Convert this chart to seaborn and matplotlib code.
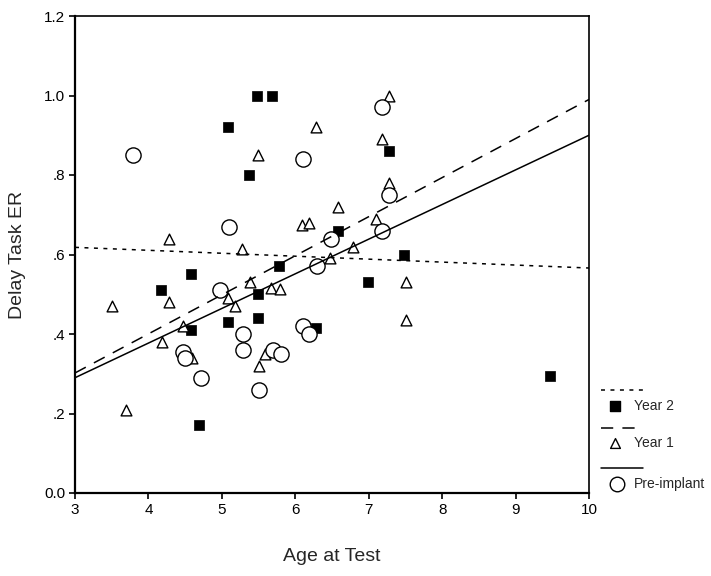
import numpy as np
import pandas as pd
import matplotlib
matplotlib.use("Agg")
import matplotlib.pyplot as plt
import seaborn as sns

# values
year2_age = [4.17, 4.58, 4.58, 4.69, 5.08, 5.09, 5.37, 5.48, 5.68, 5.49, 5.49,
             5.78, 6.28, 6.58, 6.99, 7.28, 7.48, 9.47]
year2_er = [0.51, 0.55, 0.41, 0.17, 0.92, 0.43, 0.80, 1.00, 1.00, 0.50, 0.44,
            0.57, 0.415, 0.66, 0.53, 0.86, 0.60, 0.295]

year1_age = [3.50, 3.69, 4.18, 4.28, 4.28, 4.47, 4.59, 5.09, 5.18, 5.28, 5.39,
             5.49, 5.50, 5.59, 5.67, 5.79, 6.09, 6.19, 6.28, 6.47, 6.58, 6.79,
             7.10, 7.18, 7.28, 7.28, 7.51, 7.51]
year1_er = [0.47, 0.21, 0.38, 0.48, 0.64, 0.42, 0.34, 0.49, 0.47, 0.615, 0.53,
            0.85, 0.32, 0.35, 0.515, 0.513, 0.674, 0.68, 0.92, 0.59, 0.72, 0.62,
            0.69, 0.89, 0.78, 1.00, 0.53, 0.435]

pre_age = [3.79, 4.47, 4.50, 4.71, 4.98, 5.10, 5.29, 5.29, 5.50, 5.70, 5.81,
           6.10, 6.11, 6.19, 6.29, 6.49, 7.18, 7.18, 7.28]
pre_er = [0.85, 0.355, 0.34, 0.29, 0.51, 0.67, 0.40, 0.36, 0.26, 0.36, 0.35,
          0.84, 0.42, 0.40, 0.57, 0.64, 0.66, 0.97, 0.75]

# fitted lines, value at the two ends of the x range
fit_x = [3, 10]
year2_fit = [0.618, 0.566]
year1_fit = [0.302, 0.99]
pre_fit = [0.29, 0.90]

x_ticks = [3, 4, 5, 6, 7, 8, 9, 10]
y_ticks = [0.0, 0.2, 0.4, 0.6, 0.8, 1.0, 1.2]
y_tick_labels = ["0.0", ".2", ".4", ".6", ".8", "1.0", "1.2"]

sns.set_style("ticks")
plt.rcParams['font.family'] = ['Liberation Sans', 'DejaVu Sans']

df = pd.concat([
    pd.DataFrame({"age": year2_age, "er": year2_er, "group": "Year 2"}),
    pd.DataFrame({"age": year1_age, "er": year1_er, "group": "Year 1"}),
    pd.DataFrame({"age": pre_age, "er": pre_er, "group": "Pre-implant"}),
])

fig = plt.figure(figsize=(7.11, 5.76), dpi=100)
ax = fig.add_axes([75 / 711, 1 - 493 / 576, 514 / 711, 477 / 576])

styles = {
    "Year 2": dict(marker="s", s=55, facecolor="black", linewidth=0.5),
    "Year 1": dict(marker="^", s=60, facecolor="white", linewidth=1.0),
    "Pre-implant": dict(marker="o", s=120, facecolor="white", linewidth=1.0),
}
for name, st in styles.items():
    sub = df[df["group"] == name]
    sns.scatterplot(data=sub, x="age", y="er", ax=ax, marker=st["marker"],
                    s=st["s"], color=st["facecolor"], edgecolor="black",
                    linewidth=st["linewidth"], legend=False, zorder=3)

sns.lineplot(x=fit_x, y=year2_fit, ax=ax, color="black", linewidth=1.1,
             zorder=4).lines[-1].set_dashes([2.6, 3.6])
sns.lineplot(x=fit_x, y=year1_fit, ax=ax, color="black", linewidth=1.1,
             zorder=4).lines[-1].set_dashes([8, 6])
sns.lineplot(x=fit_x, y=pre_fit, ax=ax, color="black", linewidth=1.1, zorder=4)

ax.set_xlim(3, 10)
ax.set_ylim(0, 1.2)
ax.set_xticks(x_ticks)
ax.set_yticks(y_ticks)
ax.set_yticklabels(y_tick_labels)
ax.tick_params(axis="both", direction="out", length=4, width=1.2,
               labelsize=11, colors="black", pad=3)
for side in ["left", "bottom", "top", "right"]:
    ax.spines[side].set_visible(True)
    ax.spines[side].set_color("black")
ax.spines["left"].set_linewidth(1.6)
ax.spines["bottom"].set_linewidth(1.6)
ax.spines["top"].set_linewidth(1.2)
ax.spines["right"].set_linewidth(1.2)

ax.set_xlabel("Age at Test", fontsize=14)
ax.set_ylabel("Delay Task ER", fontsize=14)
ax.xaxis.set_label_coords(0.5, -0.115)
ax.yaxis.set_label_coords(-0.095, 0.5)

# legend drawn by hand: line key on one row, marker + label under it
leg = fig.add_axes([0, 0, 1, 1], facecolor="none")
leg.set_xlim(0, 711)
leg.set_ylim(576, 0)
leg.axis("off")
leg.plot([601, 643], [390, 390], color="black", lw=1.1, dashes=[2.6, 3.6])
leg.plot([601, 643], [428, 428], color="black", lw=1.1, dashes=[8, 6])
leg.plot([601, 643], [468, 468], color="black", lw=1.1)
leg.scatter([615], [406], marker="s", s=50, color="black")
leg.scatter([615], [443], marker="^", s=50, facecolor="white",
            edgecolor="black", linewidth=1.0)
leg.scatter([617], [484], marker="o", s=110, facecolor="white",
            edgecolor="black", linewidth=1.0)
for ypos, txt in [(406, "Year 2"), (443, "Year 1"), (484, "Pre-implant")]:
    leg.text(634, ypos, txt, fontsize=10, va="center", ha="left")

fig.savefig("out.png", dpi=100)
